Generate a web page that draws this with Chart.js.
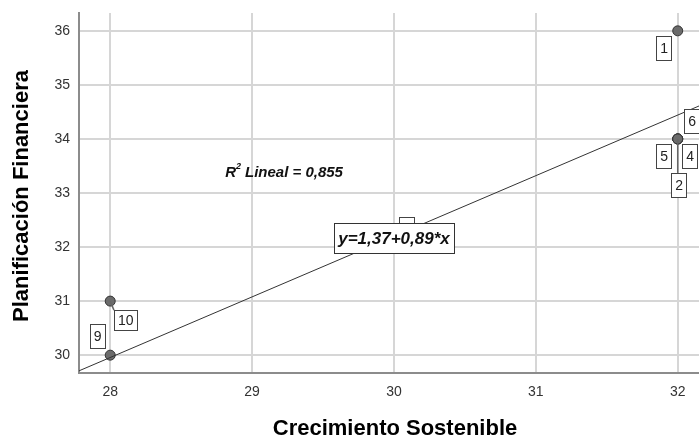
<!DOCTYPE html>
<html>
<head>
<meta charset="utf-8">
<script src="https://cdn.jsdelivr.net/npm/chart.js@4.4.1/dist/chart.umd.min.js"></script>
<style>
html,body{margin:0;padding:0;background:#fff;}
#wrap{width:699px;height:441px;}
</style>
</head>
<body>
<div id="wrap"><canvas id="c" width="699" height="441"></canvas></div>
<script>
// Data
const caseLabels = ["1","2","3","4","5","6","7","8","9","10"];
const xValues = [32, 32, 30, 32, 32, 32, 30, 30, 28, 28];
const yValues = [36, 34, 32, 34, 34, 34, 32, 32, 30, 31];
// Fit line endpoints as drawn in the picture
const fitX = [27.78, 32.15];
const fitY = [29.71, 34.61];
const xTicks = [28, 29, 30, 31, 32];
const yTicks = [30, 31, 32, 33, 34, 35, 36];
const xTitle = "Crecimiento Sostenible";
const yTitle = "Planificación Financiera";
const r2Text = "Lineal = 0,855";
const eqText = "y=1,37+0,89*x";

// label box offsets (pixels from point centre) – styling only
const labelOffsets = {
  "1": [-14, 17], "2": [1, 46], "3": [12, -18], "4": [12, 17], "5": [-14, 17],
  "6": [14, -18], "7": [12, -18], "8": [12, -18], "9": [-13, -19], "10": [15, 19]
};
const leaders = {"2": true, "10": true};

const pts = xValues.map((x, i) => ({x: x, y: yValues[i], label: caseLabels[i]}));
const linePts = fitX.map((x, i) => ({x: x, y: fitY[i]}));

const FONT = "'Liberation Sans', Arial, sans-serif";

const annot = {
  id: 'annot',
  afterDatasetsDraw(chart) {
    const ctx = chart.ctx;
    const xs = chart.scales.x, ys = chart.scales.y;
    const meta = chart.getDatasetMeta(1);
    ctx.save();
    // case labels
    ctx.font = "14px " + FONT;
    ctx.textAlign = "center";
    ctx.textBaseline = "middle";
    meta.data.forEach((el, i) => {
      const lab = caseLabels[i];
      const off = labelOffsets[lab] || [12, -18];
      const cx = el.x + off[0], cy = el.y + off[1];
      const w = ctx.measureText(lab).width + 7;
      const h = lab.length > 1 ? 20 : 24;
      if (leaders[lab]) {
        ctx.strokeStyle = "#666";
        ctx.lineWidth = 1.5;
        ctx.beginPath();
        ctx.moveTo(el.x, el.y);
        ctx.lineTo(Math.max(cx - w/2, Math.min(el.x, cx + w/2)), cy - h/2);
        ctx.stroke();
      }
      ctx.lineWidth = 1;
      ctx.fillStyle = "#fff";
      ctx.fillRect(Math.round(cx - w/2) + 0.5, Math.round(cy - h/2) + 0.5, Math.round(w), h);
      ctx.strokeStyle = "#444";
      ctx.strokeRect(Math.round(cx - w/2) + 0.5, Math.round(cy - h/2) + 0.5, Math.round(w), h);
      ctx.fillStyle = "#222";
      ctx.fillText(lab, cx + 0.5, cy + 1);
    });
    // equation box
    const ex = xs.getPixelForValue(30.0), ey = ys.getPixelForValue(32.17);
    ctx.font = "italic bold 17px " + FONT;
    const ew = ctx.measureText(eqText).width + 8;
    const eh = 30;
    ctx.fillStyle = "#fff";
    ctx.fillRect(Math.round(ex - ew/2) + 0.5, Math.round(ey - eh/2) + 0.5, Math.round(ew), eh);
    ctx.strokeStyle = "#333";
    ctx.strokeRect(Math.round(ex - ew/2) + 0.5, Math.round(ey - eh/2) + 0.5, Math.round(ew), eh);
    ctx.fillStyle = "#111";
    ctx.fillText(eqText, ex, ey + 1);
    // R² text
    const rx = xs.getPixelForValue(28.81), ry = ys.getPixelForValue(33.37);
    ctx.textAlign = "left";
    ctx.font = "italic bold 15px " + FONT;
    ctx.fillText("R", rx, ry);
    const rw = ctx.measureText("R").width;
    ctx.font = "italic bold 9px " + FONT;
    ctx.fillText("2", rx + rw, ry - 6);
    ctx.font = "italic bold 15px " + FONT;
    ctx.fillText(r2Text, rx + rw + 9, ry);
    // axis titles
    ctx.fillStyle = "#000";
    ctx.font = "bold 22px " + FONT;
    ctx.textAlign = "center";
    ctx.fillText(xTitle, (chart.chartArea.left + chart.chartArea.right) / 2 + 6, 429);
    ctx.translate(22, 196);
    ctx.rotate(-Math.PI / 2);
    ctx.fillText(yTitle, 0, 0);
    ctx.restore();
  }
};

new Chart(document.getElementById('c'), {
  type: 'scatter',
  data: {
    datasets: [
      {
        data: linePts,
        showLine: true,
        borderColor: '#333',
        borderWidth: 1,
        pointRadius: 0,
        fill: false
      },
      {
        data: pts,
        pointRadius: 5,
        pointBackgroundColor: '#6b6b6b',
        pointBorderColor: '#333',
        pointBorderWidth: 1
      }
    ]
  },
  options: {
    responsive: false,
    animation: false,
    devicePixelRatio: 1,
    layout: {autoPadding: false, padding: {top: 13, right: 0, left: 0, bottom: 0}},
    plugins: {legend: {display: false}, tooltip: {enabled: false}},
    scales: {
      x: {
        type: 'linear',
        min: 27.78, max: 32.15,
        afterFit(s) { s.height = 68; s.paddingLeft = 0; s.paddingRight = 0; },
        afterBuildTicks(s) { s.ticks = xTicks.map(v => ({value: v})); },
        ticks: {font: {family: FONT, size: 14}, color: '#333', padding: 11, includeBounds: false},
        grid: {color: '#d6d6d6', lineWidth: 2, drawTicks: false},
        border: {color: '#8c8c8c', width: 2}
      },
      y: {
        type: 'linear',
        min: 29.67, max: 36.33,
        afterFit(s) { s.width = 79; s.paddingTop = 0; s.paddingBottom = 0; },
        afterBuildTicks(s) { s.ticks = yTicks.map(v => ({value: v})); },
        ticks: {font: {family: FONT, size: 14}, color: '#333', padding: 9, includeBounds: false},
        grid: {color: '#d6d6d6', lineWidth: 2, drawTicks: false},
        border: {color: '#8c8c8c', width: 2}
      }
    }
  },
  plugins: [annot]
});
</script>
</body>
</html>
